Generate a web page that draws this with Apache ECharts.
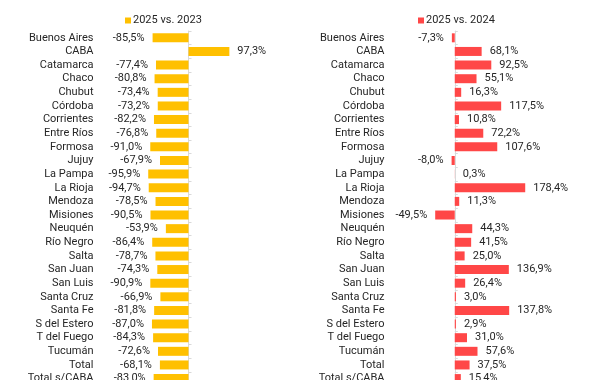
<!DOCTYPE html>
<html><head><meta charset="utf-8">
<script src="https://cdn.jsdelivr.net/npm/echarts@6/dist/echarts.min.js"></script>
<style>html,body{margin:0;padding:0;background:#fff}#c{width:611px;height:380px}</style>
</head><body><div id="c"></div>
<script>
const categories = ["Buenos Aires","CABA","Catamarca","Chaco","Chubut","Córdoba","Corrientes","Entre Ríos","Formosa","Jujuy","La Pampa","La Rioja","Mendoza","Misiones","Neuquén","Río Negro","Salta","San Juan","San Luis","Santa Cruz","Santa Fe","S del Estero","T del Fuego","Tucumán","Total","Total s/CABA"];
const vs2023 = [-85.5,97.3,-77.4,-80.8,-73.4,-73.2,-82.2,-76.8,-91.0,-67.9,-95.9,-94.7,-78.5,-90.5,-53.9,-86.4,-78.7,-74.3,-90.9,-66.9,-81.8,-87.0,-84.3,-72.6,-68.1,-83.0];
const vs2024 = [-7.3,68.1,92.5,55.1,16.3,117.5,10.8,72.2,107.6,-8.0,0.3,178.4,11.3,-49.5,44.3,41.5,25.0,136.9,26.4,3.0,137.8,2.9,31.0,57.6,37.5,15.4];
const seriesNames = ["2025 vs. 2023","2025 vs. 2024"];

const FONT = 'Roboto';
const TXT = '#262626';
const fmt = v => v.toFixed(1).replace('.', ',') + '%';
const toData = arr => arr.map(v => ({value: v, label: {position: v < 0 ? 'left' : 'right'}}));

function yAxes(gi) {
  return [
    {type:'category', gridIndex:gi, data:categories, inverse:true,
     axisLine:{show:false,onZero:false}, axisTick:{show:false},
     axisLabel:{interval:0,color:TXT,fontFamily:FONT,fontSize:11,margin:11}},
    {type:'category', gridIndex:gi, data:categories, inverse:true,
     axisLine:{show:true,onZero:true,lineStyle:{color:'#d9d9d9',width:1}},
     axisTick:{show:true,interval:0,length:3,lineStyle:{color:'#d9d9d9'}},
     axisLabel:{show:false,interval:0}}
  ];
}

const chart = echarts.init(document.getElementById('c'), null, {renderer:'canvas'});
chart.setOption({
  animation:false,
  textStyle:{fontFamily:FONT},
  legend:[
    {data:[seriesNames[0]], left:120, top:10, itemWidth:6, itemHeight:6, icon:'rect',
     textStyle:{color:TXT,fontFamily:FONT,fontSize:11,padding:[0,0,0,-3]}},
    {data:[seriesNames[1]], left:413, top:10, itemWidth:6, itemHeight:6, icon:'rect',
     textStyle:{color:TXT,fontFamily:FONT,fontSize:11,padding:[0,0,0,-3]}}
  ],
  grid:[
    {left:104.5, width:168, top:31, height:354.4, outerBoundsMode:'none', containLabel:false},
    {left:395.5, width:158, top:31, height:354.4, outerBoundsMode:'none', containLabel:false}
  ],
  xAxis:[
    {type:'value', gridIndex:0, min:-200, max:200, show:false},
    {type:'value', gridIndex:1, min:-150, max:250, show:false}
  ],
  yAxis:[...yAxes(0), ...yAxes(1)],
  series:[
    {name:seriesNames[0], type:'bar', xAxisIndex:0, yAxisIndex:0, barWidth:9,
     itemStyle:{color:'#FFC000'}, data:toData(vs2023),
     label:{show:true, distance:8, color:TXT, fontFamily:FONT, fontSize:11, formatter:p=>fmt(p.value)}},
    {name:seriesNames[1], type:'bar', xAxisIndex:1, yAxisIndex:2, barWidth:9,
     itemStyle:{color:'#FF4747'}, data:toData(vs2024),
     label:{show:true, distance:8, color:TXT, fontFamily:FONT, fontSize:11, formatter:p=>fmt(p.value)}}
  ]
});
</script></body></html>
